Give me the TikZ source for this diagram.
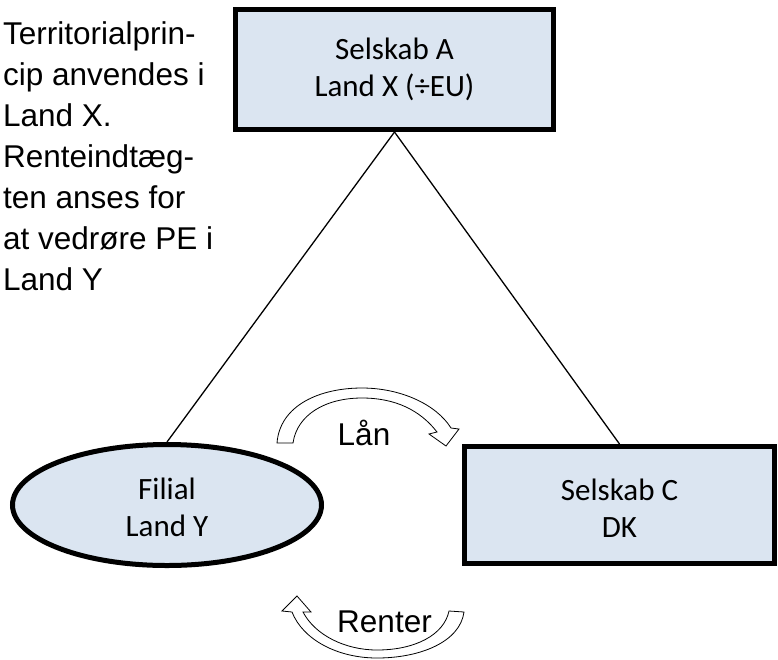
\documentclass[tikz,border=0pt]{standalone}
\usepackage{fontspec}
\setmainfont{Liberation Sans}
\newfontfamily\boxfont{Carlito}
\usetikzlibrary{shapes.geometric}
\definecolor{boxfill}{RGB}{219,229,241}
% taller first line, lowers a two-line label a little inside its shape
\newcommand{\lowerlabel}{\rule{0pt}{27pt}}
\begin{document}
\begin{tikzpicture}[x=1pt,y=-1pt,
  entity/.style={draw=black, line width=5pt, fill=boxfill, inner sep=0pt,
    align=center, font=\boxfont\fontsize{31}{37}\selectfont},
  link/.style={draw=black, line width=1.3pt},
  flow/.style={draw=black, line width=0.8pt, fill=white, line join=miter},
  caption/.style={font=\fontsize{31.5}{41}\selectfont, inner sep=0pt}]
\useasboundingbox (0,0) rectangle (778,659);

% companies and branch
\node[entity, rectangle, minimum width=318pt, minimum height=120pt] (A) at (394.5,69.5) {Selskab A\\Land X (÷EU)};
\node[entity, rectangle, minimum width=310pt, minimum height=117pt] (C) at (619.5,505) {\lowerlabel Selskab C\\DK};
\node[entity, ellipse, minimum width=309pt, minimum height=121pt] (F) at (167,505) {\lowerlabel Filial\\Land Y};

% ownership lines
\draw[link] (A.south) -- (F.north);
\draw[link] (A.south) -- (C.north);

% loan arrow (branch to C)
\draw[flow] (277,443) .. controls (280,405) and (320,388) .. (362,388)
  .. controls (400,388) and (436,404) .. (451,428) -- (459,429) -- (446,446)
  -- (429,434) -- (437,432) .. controls (420,410) and (395,398) .. (362,398)
  .. controls (325,398) and (297,415) .. (293,443) -- cycle;

% interest arrow (C to branch)
\draw[flow] (464,612) .. controls (460,642) and (420,658) .. (377,658)
  .. controls (338,658) and (303,640) .. (292,612) -- (282,611) -- (297,596)
  -- (311,612) -- (303,612) .. controls (315,635) and (345,650) .. (377,650)
  .. controls (415,650) and (444,635) .. (449,611) -- cycle;

\node[caption, anchor=base] (lan) at (364,445) {Lån};
\node[caption, anchor=base] (renter) at (384.5,632) {Renter};

\node[caption, anchor=north west, align=left] (note) at (3,21)
  {Territorialprin-\\cip anvendes i\\Land X.\\Renteindtæg-\\ten anses for\\at vedrøre PE i\\Land Y};
\end{tikzpicture}
\end{document}
